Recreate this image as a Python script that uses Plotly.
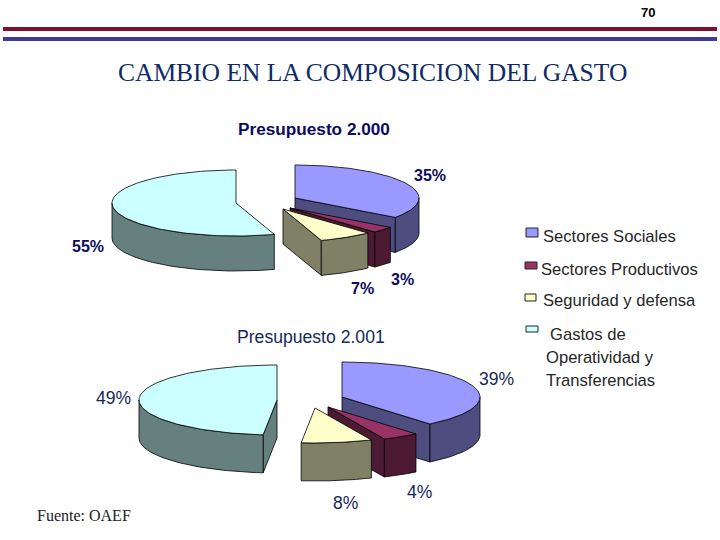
import numpy as np
import plotly.graph_objects as go

categories = ["Sectores Sociales", "Sectores Productivos", "Seguridad y defensa",
              "Gastos de Operatividad y Transferencias"]
values_2000 = [35, 3, 7, 55]
values_2001 = [39, 4.3, 8.3, 48.4]
labels_2000 = ["35%", "3%", "7%", "55%"]
labels_2001 = ["39%", "4%", "8%", "49%"]

TOP = ["#9999FF", "#993366", "#FFFFCC", "#CCFFFF"]
WALL = ["#4D4D80", "#4D1A33", "#808066", "#668080"]
INK = "#000000"

PIES = [
    dict(values=values_2000, labels=labels_2000, rx=124, ry=33, depth=35, weight=700, size=16,
         anchors=[(295, 198), (290, 208), (283, 209), (236, 203)],
         label_at=[(430, 175), (402, 279), (362, 288), (88, 246)], label_color="#0B0B5E"),
    dict(values=values_2001, labels=labels_2001, rx=138, ry=35, depth=38, weight=400, size=17.5,
         anchors=[(342, 397), (328, 407), (315, 408), (277, 400)],
         label_at=[(496, 379), (419, 492), (345, 503), (113, 398)], label_color="#14285A"),
]

fig = go.Figure()


def add_poly(xs, ys, color, name):
    fig.add_trace(go.Scatter(x=xs, y=ys, mode="lines", fill="toself", fillcolor=color,
                             line=dict(color=INK, width=0.8), name=name,
                             hoverinfo="name", showlegend=False))


for pie in PIES:
    total = sum(pie["values"])
    edges = np.concatenate([[0], np.cumsum(pie["values"])]) / total * 2 * np.pi
    rx, ry, depth = pie["rx"], pie["ry"], pie["depth"]
    for i, (t0, t1) in enumerate(zip(edges[:-1], edges[1:])):
        ax, ay = pie["anchors"][i]
        px = lambda t: ax + rx * np.sin(t)
        py = lambda t: ay - ry * np.cos(t)
        name = categories[i]
        # walls, back to front
        if np.sin(t0) < -1e-9:
            add_poly([ax, px(t0), px(t0), ax, ax],
                     [ay, py(t0), py(t0) + depth, ay + depth, ay], WALL[i], name)
        if np.sin(t1) > 1e-9:
            add_poly([ax, px(t1), px(t1), ax, ax],
                     [ay, py(t1), py(t1) + depth, ay + depth, ay], WALL[i], name)
        lo, hi = max(t0, np.pi / 2), min(t1, 3 * np.pi / 2)
        if hi > lo:
            th = np.linspace(lo, hi, 60)
            add_poly(np.r_[px(th), px(th[::-1]), px(th[0])],
                     np.r_[py(th), py(th[::-1]) + depth, py(th[0])], WALL[i], name)
        # top face
        th = np.linspace(t0, t1, 120)
        add_poly(np.r_[ax, px(th), ax], np.r_[ay, py(th), ay], TOP[i], name)
    for (lx, ly), txt in zip(pie["label_at"], pie["labels"]):
        fig.add_annotation(x=lx, y=ly, text=txt, showarrow=False, xanchor="center", yanchor="middle",
                           font=dict(family="Liberation Sans", size=pie["size"], color=pie["label_color"],
                                     weight=pie["weight"]))


def note(x, y, text, size, color, family="Liberation Sans", anchor="left", weight=400):
    fig.add_annotation(x=x, y=y, text=text, showarrow=False, xanchor=anchor, yanchor="middle",
                       font=dict(family=family, size=size, color=color, weight=weight))


note(372, 72, "CAMBIO EN LA COMPOSICION DEL GASTO", 25.5, "#0F2A66", "Liberation Serif", "center")
note(648, 12, "70", 13, "#000000", "Liberation Sans", "center", 700)
note(35, 515, "Fuente: OAEF", 16, "#222222", "Liberation Serif")
note(314, 129, "Presupuesto 2.000", 17.2, "#0B0B5E", "Liberation Sans", "center", 700)
note(311, 337, "Presupuesto 2.001", 17.6, "#14285A", "Liberation Sans", "center")

legend_text = [(541, 236, "Sectores Sociales"), (539, 269, "Sectores Productivos"),
               (541, 300, "Seguridad y defensa"), (548, 334, "Gastos de"),
               (544, 357, "Operatividad y"), (544, 380, "Transferencias")]
for x, y, t in legend_text:
    note(x, y, t, 16.6, "#262626")

swatches = [(526, 228, 538, 237), (525, 262, 537, 269), (525, 294, 536, 301), (526, 326, 538, 332)]
for (x0, y0, x1, y1), c in zip(swatches, TOP):
    fig.add_shape(type="rect", x0=x0, y0=y0, x1=x1, y1=y1, fillcolor=c,
                  line=dict(color="#222222", width=1))

fig.add_shape(type="rect", x0=3, x1=717, y0=27, y1=31, fillcolor="#7F0F2F", line=dict(width=0))
fig.add_shape(type="rect", x0=3, x1=717, y0=37, y1=41, fillcolor="#3B3B9B", line=dict(width=0))

fig.update_layout(width=720, height=540, margin=dict(l=0, r=0, t=0, b=0),
                  paper_bgcolor="white", plot_bgcolor="white", showlegend=False,
                  xaxis=dict(range=[0, 720], visible=False, fixedrange=True),
                  yaxis=dict(range=[540, 0], visible=False, fixedrange=True))
fig.write_html("out.html", config=dict(displayModeBar=False),
               post_script="document.body.style.margin='0';document.documentElement.style.overflow='hidden';")
